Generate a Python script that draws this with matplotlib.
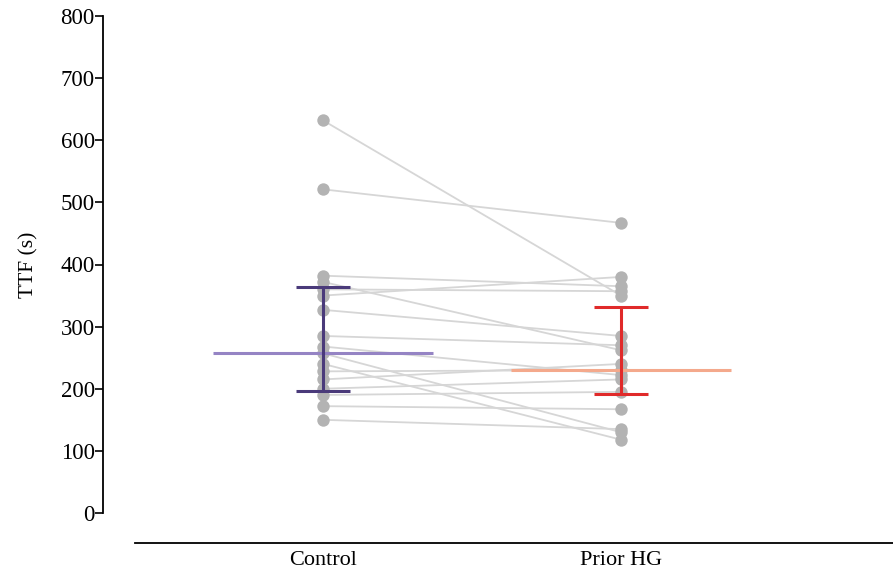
import matplotlib
matplotlib.use("Agg")
import matplotlib.pyplot as plt
import numpy as np

plt.rcParams['font.family'] = ['Liberation Serif', 'DejaVu Serif']

groups = ["Control", "Prior HG"]
control = [632, 521, 382, 372, 360, 350, 327, 285, 268, 257, 240, 228, 215, 200, 190, 172, 150]
prior   = [350, 467, 365, 262, 357, 380, 285, 270, 222, 130, 118, 230, 240, 215, 195, 167, 135]
centers = [257, 230]
lower = [197, 192]
upper = [363, 332]
yticks = [0, 100, 200, 300, 400, 500, 600, 700, 800]

W, H = 893, 575
fig = plt.figure(figsize=(W / 100, H / 100), dpi=100)
ax = fig.add_axes([135 / W, (H - 513) / H, (893 - 135) / W, (513 - 16) / H])

xpos = np.arange(len(groups))
for c, p in zip(control, prior):
    ax.plot(xpos, [c, p], color='#d6d6d6', lw=1.3, zorder=1)
ax.scatter(np.full(len(control), xpos[0]), control, s=80, color='#b3b3b3', zorder=2, linewidths=0)
ax.scatter(np.full(len(prior), xpos[1]), prior, s=80, color='#b3b3b3', zorder=2, linewidths=0)

mean_cols = ['#9584c4', '#f4a98c']
err_cols = ['#4a3a7a', '#e02a2a']
for i in range(len(groups)):
    ax.hlines(centers[i], xpos[i] - 0.37, xpos[i] + 0.37, color=mean_cols[i], lw=2.2, zorder=3)
    ax.vlines(xpos[i], lower[i], upper[i], color=err_cols[i], lw=2.2, zorder=4)
    ax.hlines([lower[i], upper[i]], xpos[i] - 0.092, xpos[i] + 0.092, color=err_cols[i], lw=2.2, zorder=4)

ax.set_xlim(-0.631, 1.913)
ax.set_ylim(0, 800)
ax.set_yticks(yticks)
ax.set_yticklabels([str(t) for t in yticks])
ax.set_xticks(xpos)
ax.set_xticklabels(groups)
ax.tick_params(axis='x', length=0, pad=6, labelsize=16)
ax.tick_params(axis='y', length=6, width=1.2, pad=0, labelsize=16.5)

for s in ['top', 'right']:
    ax.spines[s].set_visible(False)
ax.spines['left'].set_position(('outward', 32 * 0.72))
ax.spines['left'].set_bounds(0, 800)
ax.spines['left'].set_linewidth(1.3)
ax.spines['bottom'].set_position(('outward', 30 * 0.72))
ax.spines['bottom'].set_linewidth(1.3)

ax.set_ylabel("TTF (s)", fontsize=15.5)
ax.yaxis.set_label_coords(-(135 - 38) / (893 - 135), 0.5)

fig.savefig("out.png", dpi=100)
